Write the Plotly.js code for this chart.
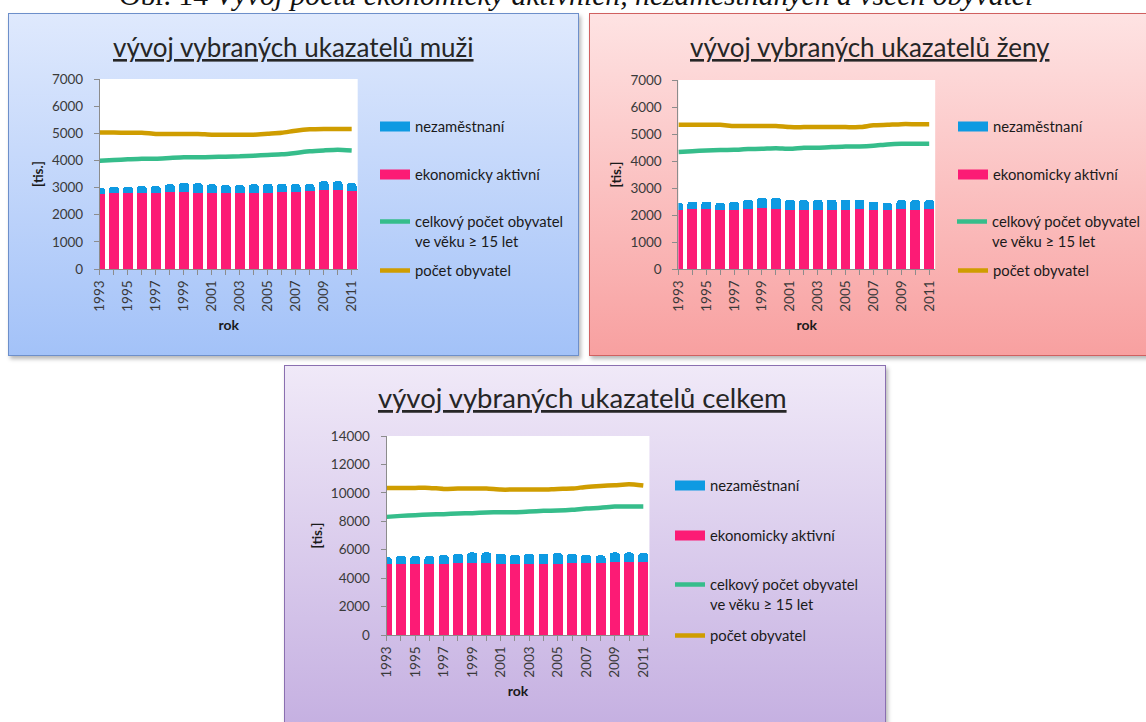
<!DOCTYPE html>
<html>
<head>
<meta charset="utf-8">
<script src="https://cdn.plot.ly/plotly-3.0.1.min.js"></script>
<style>
  html, body { margin:0; padding:0; width:1146px; height:722px; overflow:hidden; background:#ffffff; }
  .panel { position:absolute; box-sizing:border-box; box-shadow: 2px 3px 4px rgba(0,0,0,0.28); }
  #pm { left:8px; top:13px; width:571px; height:343px; border:1.5px solid #6d8fca;
        background: linear-gradient(to bottom, #dfe9fd 0%, #a3c2f8 100%); }
  #pz { left:589px; top:13px; width:580px; height:343px; border:1.5px solid #d06060;
        background: linear-gradient(to bottom, #fee3e3 0%, #f8a0a0 100%); }
  #pc { left:284px; top:365px; width:602px; height:380px; border:1.5px solid #8a6fb0;
        background: linear-gradient(to bottom, #f0e9f8 0%, #c3ade0 100%); }
  #chart { position:absolute; left:0; top:0; width:1146px; height:722px; }
</style>
</head>
<body>
<div class="panel" id="pm"></div>
<div class="panel" id="pz"></div>
<div class="panel" id="pc"></div>
<div id="chart"></div>
<script>
// ---------- data (thousands) ----------
const years = [1993,1994,1995,1996,1997,1998,1999,2000,2001,2002,2003,2004,2005,2006,2007,2008,2009,2010,2011];
const tickLabels = ['1993','','1995','','1997','','1999','','2001','','2003','','2005','','2007','','2009','','2011'];

const seriesNames = ['nezaměstnaní', 'ekonomicky aktivní', 'celkový počet obyvatel<br>ve věku ≥ 15 let', 'počet obyvatel'];
const panelTitles = ['vývoj vybraných ukazatelů muži', 'vývoj vybraných ukazatelů ženy', 'vývoj vybraných ukazatelů celkem'];
const caption = 'Obr. 14 <i>Vývoj počtu ekonomicky aktivních, nezaměstnaných a všech obyvatel</i>';

const muziAktivni  = [2750,2790,2800,2810,2810,2850,2850,2810,2790,2790,2790,2790,2810,2840,2840,2890,2920,2920,2890];
const muziNezam    = [235,245,235,245,245,270,330,345,330,295,295,330,330,305,280,230,310,310,280];
const muziPatnact  = [3990,4015,4040,4065,4065,4090,4115,4115,4125,4140,4150,4175,4200,4225,4275,4335,4370,4395,4370];
const muziObyv     = [5025,5025,5020,5020,4975,4975,4975,4975,4950,4950,4950,4950,4985,5020,5095,5145,5160,5160,5160];

const zenyAktivni  = [2200,2225,2225,2200,2200,2225,2250,2225,2200,2200,2200,2200,2200,2225,2200,2200,2225,2200,2225];
const zenyNezam    = [250,275,275,250,300,345,385,410,370,350,370,370,370,345,300,250,325,350,325];
const zenyPatnact  = [4330,4365,4390,4405,4415,4440,4450,4475,4450,4490,4490,4515,4540,4540,4565,4615,4640,4640,4640];
const zenyObyv     = [5340,5340,5340,5340,5295,5295,5295,5295,5255,5255,5255,5255,5255,5255,5320,5340,5365,5365,5365];

const celkemAktivni = [4965,5010,5010,5010,5010,5080,5080,5035,5010,5010,5010,5010,5010,5080,5080,5080,5150,5150,5150];
const celkemNezam   = [515,540,540,540,610,635,725,770,705,635,705,705,750,635,565,515,655,655,610];
const celkemPatnact = [8310,8380,8430,8475,8500,8545,8570,8615,8640,8640,8685,8735,8755,8805,8895,8945,9035,9035,9035];
const celkemObyv    = [10350,10350,10350,10350,10280,10300,10300,10300,10230,10230,10230,10230,10280,10300,10420,10490,10535,10605,10515];

// ---------- styling ----------
const W = 1146, H = 722;
const F = 'Lato, "Liberation Sans", sans-serif';
const C = { nezam:'#0e9ae2', akt:'#fc1b75', patnact:'#36bd8b', obyv:'#cf9d00' };
const fx = px => px / W;
const fy = py => 1 - py / H;

const panels = [
  { ax:'',  aktivni:muziAktivni,   nezam:muziNezam,   patnact:muziPatnact,   obyv:muziObyv,
    xd:[100,358], yd:[79,269], ymax:7000, dtick:1000,
    leg:{x:375, y:[127,175,231.5,271]}, title:{x:294,y:47,size:26} },
  { ax:'2', aktivni:zenyAktivni,   nezam:zenyNezam,   patnact:zenyPatnact,   obyv:zenyObyv,
    xd:[679,936], yd:[80,269], ymax:7000, dtick:1000,
    leg:{x:953, y:[127,175,231.5,271]}, title:{x:871,y:47,size:26} },
  { ax:'3', aktivni:celkemAktivni, nezam:celkemNezam, patnact:celkemPatnact, obyv:celkemObyv,
    xd:[387,650], yd:[436,635], ymax:14000, dtick:2000,
    leg:{x:670, y:[486,536,594.5,636]}, title:{x:583,y:397,size:27.5} }
];

const data = [];
const layout = {
  width: W, height: H,
  margin: {l:0, r:0, t:0, b:0},
  paper_bgcolor: 'rgba(0,0,0,0)',
  plot_bgcolor: '#ffffff',
  barmode: 'stack',
  bargap: 0.3,
  barcornerradius: 3,
  showlegend: true,
  font: {family: F, color: '#3a3a3a'},
  annotations: [],
  hovermode: false
};

let legIdx = 0;
function legKey() { legIdx++; return legIdx === 1 ? 'legend' : 'legend' + legIdx; }

panels.forEach((p, pi) => {
  const xa = 'x' + p.ax, ya = 'y' + p.ax;
  layout['xaxis' + p.ax] = {
    domain: [fx(p.xd[0]), fx(p.xd[1])], anchor: ya,
    range: [1993, 2011.43], tickmode: 'array', tickvals: years, ticktext: tickLabels,
    tickangle: -90, ticks: 'outside', ticklen: 5, tickcolor: '#8c8c8c',
    showline: true, linecolor: '#8c8c8c', linewidth: 1, showgrid: false, zeroline: false,
    tickfont: {family: F, size: 13.5, color: '#3a3a3a'},
    title: {text: '<b>rok</b>', font: {family: F, size: 14, color: '#1a1a1a'}, standoff: 9},
    fixedrange: true
  };
  layout['yaxis' + p.ax] = {
    domain: [fy(p.yd[1]), fy(p.yd[0])], anchor: xa,
    range: [0, p.ymax], dtick: p.dtick, tick0: 0, tickformat: 'd',
    ticks: 'outside', ticklen: 5, tickcolor: '#8c8c8c', ticklabelstandoff: 8,
    showline: true, linecolor: '#8c8c8c', linewidth: 1, showgrid: false, zeroline: false,
    tickfont: {family: F, size: 13.5, color: '#3a3a3a'},
    title: {text: '<b>[tis.]</b>', font: {family: F, size: 13.5, color: '#1a1a1a'}, standoff: 5},
    fixedrange: true
  };

  // bars
  data.push({type:'bar', x: years, y: p.aktivni, xaxis: xa, yaxis: ya, name: seriesNames[1],
             marker:{color: C.akt}, showlegend:false, hoverinfo:'skip'});
  data.push({type:'bar', x: years, y: p.nezam, xaxis: xa, yaxis: ya, name: seriesNames[0],
             marker:{color: C.nezam}, showlegend:false, hoverinfo:'skip'});

  // legend entries
  const keys = [legKey(), legKey(), legKey(), legKey()];
  keys.forEach((k, i) => {
    layout[k] = {
      x: fx(p.leg.x), y: fy(p.leg.y[i]), xanchor: 'left', yanchor: 'middle',
      xref: 'paper', yref: 'paper',
      bgcolor: 'rgba(0,0,0,0)', borderwidth: 0,
      font: {family: F, size: 14.8, color: '#1a1a1a'},
      valign: 'top', itemclick: false, itemdoubleclick: false, itemwidth: 30
    };
  });
  // legend proxies for the bar series (rectangular swatches)
  data.push({type:'scatter', mode:'lines', x:[null], y:[null], xaxis: xa, yaxis: ya,
             name: seriesNames[0], line:{color: C.nezam, width: 10}, legend: keys[0], hoverinfo:'skip'});
  data.push({type:'scatter', mode:'lines', x:[null], y:[null], xaxis: xa, yaxis: ya,
             name: seriesNames[1], line:{color: C.akt, width: 10}, legend: keys[1], hoverinfo:'skip'});
  // lines
  data.push({type:'scatter', mode:'lines', x: years, y: p.patnact, xaxis: xa, yaxis: ya,
             name: seriesNames[2], line:{color: C.patnact, width: 4.5, shape:'spline', smoothing:0.6},
             legend: keys[2], hoverinfo:'skip'});
  data.push({type:'scatter', mode:'lines', x: years, y: p.obyv, xaxis: xa, yaxis: ya,
             name: seriesNames[3], line:{color: C.obyv, width: 4.5, shape:'spline', smoothing:0.6},
             legend: keys[3], hoverinfo:'skip'});

  // panel title
  layout.annotations.push({
    xref:'paper', yref:'paper', x: fx(p.title.x), y: fy(p.title.y), xanchor:'center', yanchor:'middle',
    text: '<u>' + panelTitles[pi] + '</u>', showarrow:false,
    font:{family: F, size: p.title.size, color:'#262626'}
  });
});

// figure caption (partly outside the page top, as in the reference)
layout.annotations.push({
  xref:'paper', yref:'paper', x: fx(577), y: fy(13), xanchor:'center', yanchor:'bottom',
  text: caption, showarrow:false,
  font:{family: '"Liberation Serif", "DejaVu Serif", serif', size: 29.7, color:'#111111'}
});

Plotly.newPlot('chart', data, layout, {staticPlot: true, displayModeBar: false});
</script>
</body>
</html>
